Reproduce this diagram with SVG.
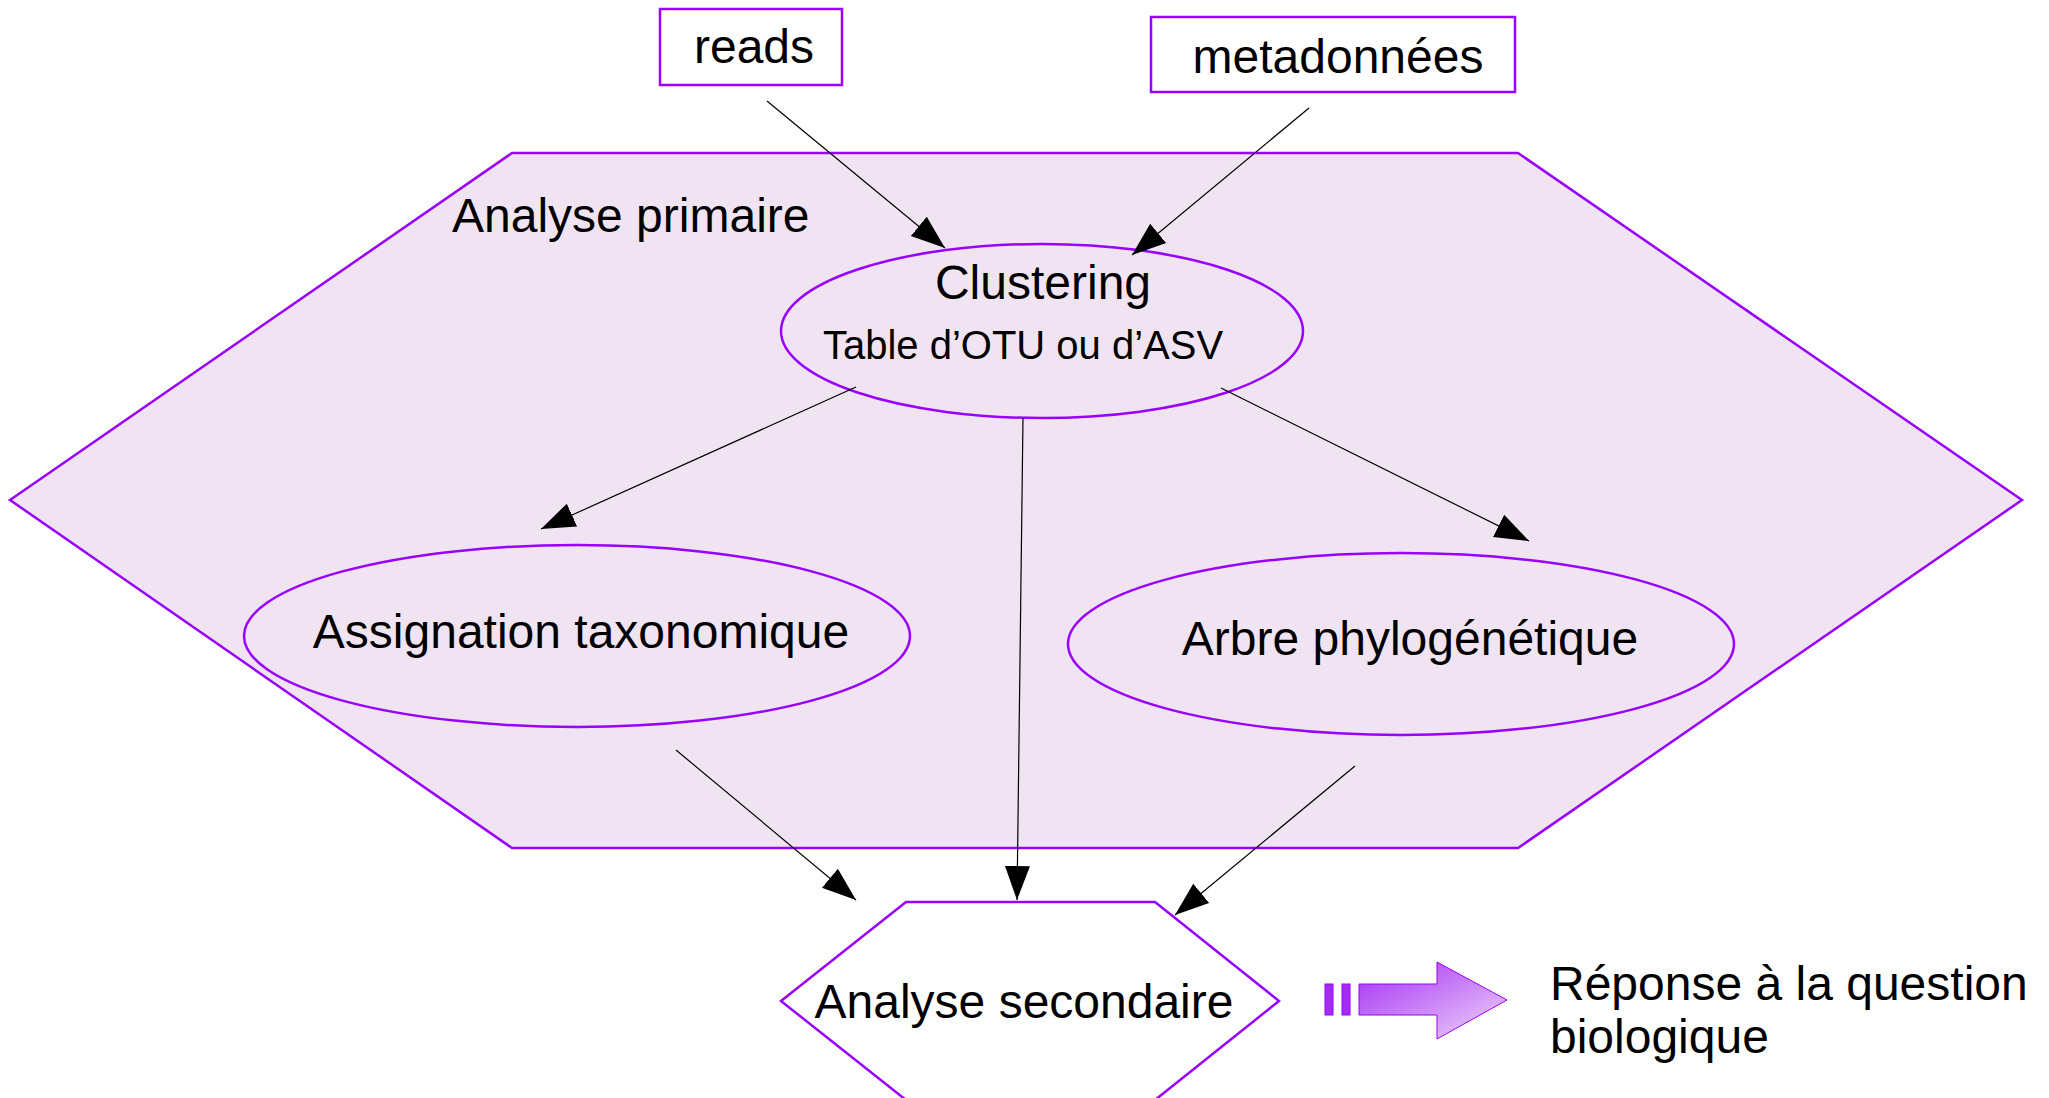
<svg xmlns="http://www.w3.org/2000/svg" width="2049" height="1098" viewBox="0 0 2049 1098">
<defs>
<style>
text{font-family:"Liberation Sans",Arial,sans-serif;fill:#000;}
.big{font-size:48px;}
.mid{font-size:40px;}
.shape{stroke:#9900ff;stroke-width:2.5;}
.conn{stroke:#000;stroke-width:1.2;fill:none;marker-end:url(#ah);}
</style>
<marker id="ah" markerUnits="userSpaceOnUse" markerWidth="36" markerHeight="28" refX="34" refY="14" orient="auto">
<path d="M0,1.5 L34,14 L0,26.5 z" fill="#000"/>
</marker>
<linearGradient id="grad" x1="0" y1="0" x2="1" y2="1">
<stop offset="0" stop-color="#a52cf4"/>
<stop offset="1" stop-color="#eed8fa"/>
</linearGradient>
</defs>
<rect width="2049" height="1098" fill="#fff"/>
<g id="analyse-primaire">
<polygon class="shape" points="10,500 512,153 1518,153 2022,500 1518,848 512,848" fill="#f0e4f2"/>
<text class="big" x="452" y="232">Analyse primaire</text>
</g>
<g id="reads">
<rect class="shape" x="660" y="9" width="182" height="76" fill="#fff" stroke-width="2"/>
<text class="big" x="754" y="63" text-anchor="middle">reads</text>
</g>
<g id="metadonnees">
<rect class="shape" x="1151" y="17" width="364" height="75" fill="#fff" stroke-width="2"/>
<text class="big" x="1338" y="73" text-anchor="middle">metadonnées</text>
</g>
<g id="clustering">
<ellipse class="shape" cx="1042" cy="331" rx="261" ry="87" fill="#f0e4f2"/>
<text class="big" x="1043" y="299" text-anchor="middle">Clustering</text>
<text class="mid" x="1023" y="359" text-anchor="middle">Table d’OTU ou d’ASV</text>
</g>
<g id="assignation">
<ellipse class="shape" cx="577" cy="636" rx="333" ry="91" fill="#f0e4f2"/>
<text class="big" x="581" y="648" text-anchor="middle">Assignation taxonomique</text>
</g>
<g id="arbre">
<ellipse class="shape" cx="1401" cy="644" rx="333" ry="91" fill="#f0e4f2"/>
<text class="big" x="1410" y="655" text-anchor="middle">Arbre phylogénétique</text>
</g>
<g id="analyse-secondaire">
<polygon class="shape" points="781,1001 906,902 1155,902 1279,1001 1155,1100 906,1100" fill="#fff" stroke-width="2"/>
<text class="big" x="1024" y="1018" text-anchor="middle">Analyse secondaire</text>
</g>
<g id="fleche-reponse">
<rect x="1325" y="984" width="8" height="31" fill="#a52cf4" stroke="#9900ff" stroke-width="1"/>
<rect x="1342" y="984" width="8" height="31" fill="#a52cf4" stroke="#9900ff" stroke-width="1"/>
<polygon points="1359,984 1437,984 1437,962 1507,1000 1437,1039 1437,1015 1359,1015" fill="url(#grad)" stroke="#9900ff" stroke-width="1"/>
</g>
<g id="reponse">
<text class="big" x="1550" y="1000">Réponse à la question</text>
<text class="big" x="1550" y="1053">biologique</text>
</g>
<g id="connectors">
<line class="conn" x1="767" y1="101" x2="945" y2="248"/>
<line class="conn" x1="1309" y1="108" x2="1132" y2="255"/>
<line class="conn" x1="856" y1="387" x2="541" y2="529"/>
<line class="conn" x1="1023" y1="418" x2="1017" y2="900"/>
<line class="conn" x1="1221" y1="388" x2="1529" y2="541"/>
<line class="conn" x1="676" y1="750" x2="856" y2="900"/>
<line class="conn" x1="1355" y1="766" x2="1175" y2="915"/>
</g>
</svg>
